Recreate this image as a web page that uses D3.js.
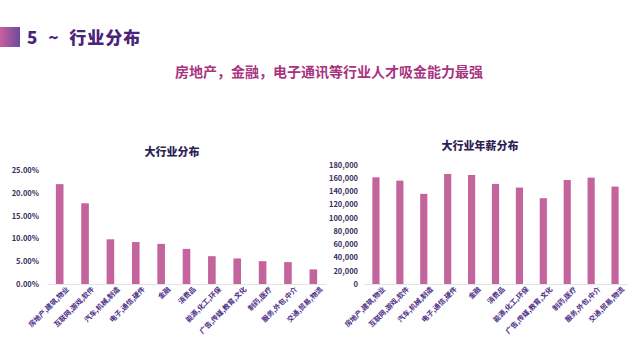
<!DOCTYPE html>
<html><head><meta charset="utf-8">
<script src="https://cdn.jsdelivr.net/npm/d3@7"></script>
<style>body{margin:0;background:#fff}svg{display:block}text{font-family:"Noto Sans CJK SC","Noto Sans",sans-serif}</style>
</head><body><svg id="c" width="640" height="360"></svg>
<script>
const categories=["房地产,建筑,物业","互联网,游戏,软件","汽车,机械,制造","电子,通信,硬件","金融","消费品","能源,化工,环保","广告,传媒,教育,文化","制药,医疗","服务,外包,中介","交通,贸易,物流"];
const shareValues=[0.219,0.177,0.098,0.092,0.088,0.077,0.061,0.056,0.050,0.048,0.032];
const salaryValues=[161000,156000,136000,166000,164500,151000,145500,129500,157000,160500,147000];
const shareTicks=[0,0.05,0.10,0.15,0.20,0.25];
const salaryTicks=[0,20000,40000,60000,80000,100000,120000,140000,160000,180000];

const svg=d3.select("#c");
const barColor="#c4649c", tickColor="#3a2d5c", labelColor="#4b2d86";

// header
const g0=svg.append("defs").append("linearGradient").attr("id","hg");
g0.append("stop").attr("offset","0%").attr("stop-color","#c8609c");
g0.append("stop").attr("offset","100%").attr("stop-color","#6c4a9e");
svg.append("rect").attr("x",0).attr("y",27).attr("width",20).attr("height",20).attr("fill","url(#hg)");
svg.append("text").attr("x",27).attr("y",44).attr("font-size",17).attr("font-weight",900).attr("fill","#4a2478").attr("xml:space","preserve").attr("letter-spacing",1).text("5  ~  行业分布");
svg.append("text").attr("x",329).attr("y",77).attr("text-anchor","middle").attr("font-size",14).attr("font-weight",700).attr("fill","#a8337e").text("房地产，金融，电子通讯等行业人才吸金能力最强");

function chart(opts){
  const x=d3.scaleBand().domain(categories).range([opts.x0,opts.x1]).paddingInner(0.7).paddingOuter(0.35);
  const y=d3.scaleLinear().domain([opts.ticks[0],opts.ticks[opts.ticks.length-1]]).range([opts.yb,opts.yt]);
  const g=svg.append("g");
  g.append("text").attr("x",opts.tx).attr("y",opts.ty).attr("text-anchor","middle").attr("font-size",11).attr("font-weight",900).attr("fill","#2e1f55").text(opts.title);
  const ya=g.append("g").attr("transform",`translate(${opts.x0},0)`).call(d3.axisLeft(y).tickValues(opts.ticks).tickSize(0).tickPadding(opts.pad).tickFormat(opts.fmt));
  ya.select(".domain").remove();
  ya.selectAll("text").attr("font-size",7.5).attr("font-weight",700).attr("fill",tickColor);
  g.selectAll("rect.b").data(opts.values).join("rect").attr("class","b")
    .attr("x",(d,i)=>x(categories[i])).attr("width",x.bandwidth())
    .attr("y",d=>y(d)).attr("height",d=>opts.yb-y(d)).attr("fill",barColor);
  const xa=g.append("g").attr("transform",`translate(0,${opts.yb})`).call(d3.axisBottom(x).tickSize(0).tickPadding(6));
  xa.select(".domain").attr("stroke","#e4e4e4");
  xa.selectAll("text").attr("font-size",7).attr("font-weight",700).attr("fill",labelColor)
    .attr("text-anchor","end").attr("dy","0.3em").attr("transform","translate(4,0) rotate(-45)");
}
chart({x0:47,x1:326,yt:170,yb:284,ticks:shareTicks,values:shareValues,fmt:d3.format(".2%"),pad:8,title:"大行业分布",tx:172,ty:156});
chart({x0:364,x1:627,yt:164.7,yb:284,ticks:salaryTicks,values:salaryValues,fmt:d3.format(","),pad:6,title:"大行业年薪分布",tx:480,ty:150});
</script></body></html>
